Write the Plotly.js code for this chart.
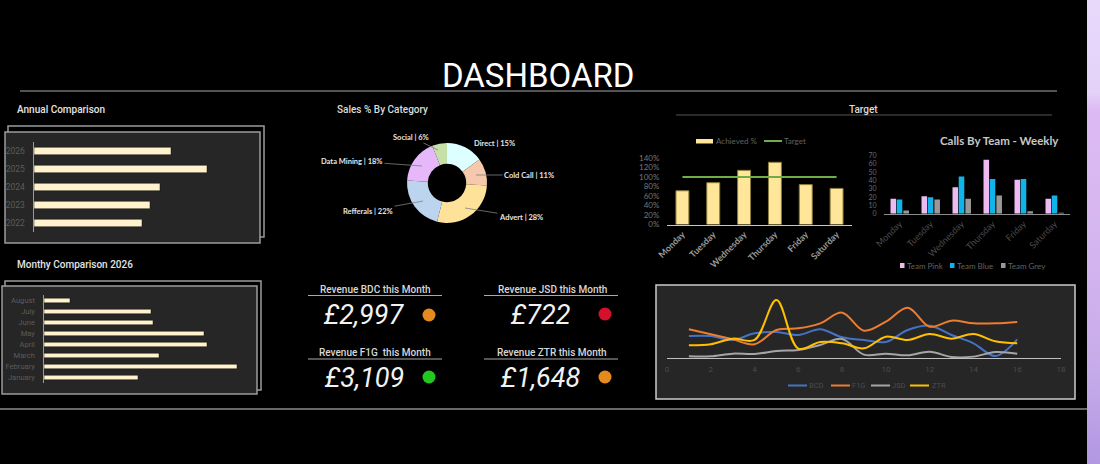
<!DOCTYPE html>
<html>
<head>
<meta charset="utf-8">
<script src="https://cdn.plot.ly/plotly-3.0.1.min.js"></script>
<style>
html,body{margin:0;padding:0;background:#000;overflow:hidden}
#chart{width:1100px;height:464px}
#band{position:absolute;left:1087px;top:0;width:13px;height:464px;
  background:linear-gradient(180deg,#E8D9FB 0%,#E4D2F9 20%,#DDB9F3 24%,#D6B6EF 50%,#C6ABEA 80%,#B297E2 100%)}
</style>
</head>
<body>
<div id="chart"></div>
<div id="band"></div>
<script>
// ---------- data ----------
const years = ['2022','2023','2024','2025','2026'];
const annualValues = [108,116,126,173,137];
const months = ['January','February','March','April','May','June','July','August'];
const monthlyValues = [94,193,115,163,160,109,107,26];
const pieCategories = ['Direct','Cold Call','Advert','Refferals','Data Mining','Social'];
const pieValues = [15,11,28,22,18,6];
const pieColors = ['#DDFFFF','#F6C9AD','#FFE29A','#BDD4EE','#E6B8FA','#C6E0A9'];
const days = ['Monday','Tuesday','Wednesday','Thursday','Friday','Saturday'];
const achieved = [0.71,0.88,1.14,1.31,0.84,0.76];
const target = [1,1,1,1,1,1];
const teamPink = [18,21,32,65,41,18];
const teamBlue = [17,20,45,42,42,22];
const teamGrey = [4,17,18,22,3,1];
const periods = [1,2,3,4,5,6,7,8,9,10,11,12,13,14,15,16];
const bcd = [67,67,55,75,79,70,87,63,55,49,85,98,70,45,7,57];
const f1g = [87,72,57,42,85,90,105,137,83,110,152,95,113,105,105,109];
const jsd = [6,6,14,13,22,25,40,58,11,14,9,20,4,5,19,14];
const ztr = [39,42,59,55,175,29,49,45,30,65,55,73,59,73,51,45];
const kpiTitles = ['Revenue BDC this Month','Revenue JSD this Month','Revenue F1G  this Month','Revenue ZTR this Month'];
const kpiValues = ['£2,997','£722','£3,109','£1,648'];
const kpiColors = ['#E58A1C','#D4102C','#22C81E','#E58A1C'];

// ---------- helpers (pixel → paper) ----------
const W = 1100, H = 464;
const px = x => x / W, py = y => 1 - y / H;
const dx = (a,b) => [px(a), px(b)];
const dy = (top,bottom) => [py(bottom), py(top)];
const FONT = 'Roboto, sans-serif', LATO = 'Lato, sans-serif';
const TICK = '#5c5c5c';

const rect = (x0,y0,x1,y1,line,fill,w) => ({type:'rect',xref:'paper',yref:'paper',x0:px(x0),x1:px(x1),y0:py(y0),y1:py(y1),
  line:{color:line,width:w===undefined?1.5:w},fillcolor:fill||'rgba(0,0,0,0)',layer:'below'});
const hline = (x0,x1,y,c,w) => ({type:'line',xref:'paper',yref:'paper',x0:px(x0),x1:px(x1),y0:py(y),y1:py(y),line:{color:c,width:w||1},layer:'below'});
const dot = (cx,cy,c) => ({type:'circle',xref:'paper',yref:'paper',x0:px(cx-6.5),x1:px(cx+6.5),y0:py(cy+6.5),y1:py(cy-6.5),fillcolor:c,line:{width:0},layer:'above'});
const txt = (x,y,text,size,color,anchor,family,weight) => ({xref:'paper',yref:'paper',x:px(x),y:py(y),text,showarrow:false,
  xanchor:anchor||'center',yanchor:'middle',borderpad:0,font:{family:family||FONT,size,color,weight:weight||400}});

// ---------- traces ----------
const cream = {color:'#FFF2CC',line:{color:'#111',width:0.5}};
const traces = [
  {type:'bar',orientation:'h',x:annualValues,y:years,xaxis:'x',yaxis:'y',marker:cream,showlegend:false},
  {type:'bar',orientation:'h',x:monthlyValues,y:months,xaxis:'x2',yaxis:'y2',marker:cream,showlegend:false},
  {type:'pie',labels:pieCategories,values:pieValues,sort:false,direction:'clockwise',rotation:0,hole:0.48,
   marker:{colors:pieColors,line:{width:0}},textinfo:'none',showlegend:false,
   domain:{x:dx(407,487),y:dy(143,223)}},
  {type:'bar',name:'Achieved %',x:days,y:achieved,xaxis:'x3',yaxis:'y3',marker:{color:'#FFE699',line:{color:'#8a7a3c',width:1}},showlegend:false},
  {type:'scatter',mode:'lines',name:'Target',x:days,y:target,xaxis:'x3',yaxis:'y3',line:{color:'#70AD47',width:2},showlegend:false},
  {type:'bar',name:'Team Pink',x:days,y:teamPink,xaxis:'x4',yaxis:'y4',width:0.18,offset:-0.29,marker:{color:'#EDBBF2'},showlegend:false},
  {type:'bar',name:'Team Blue',x:days,y:teamBlue,xaxis:'x4',yaxis:'y4',width:0.18,offset:-0.09,marker:{color:'#10B4E8'},showlegend:false},
  {type:'bar',name:'Team Grey',x:days,y:teamGrey,xaxis:'x4',yaxis:'y4',width:0.18,offset:0.125,marker:{color:'#999999'},showlegend:false}
];
const lineSeries = [['BCD',bcd,'#4472C4',788,808],['F1G',f1g,'#ED7D31',831,851],['JSD',jsd,'#A5A5A5',871,891],['ZTR',ztr,'#FFC000',910,931]];
lineSeries.forEach(s=>{
  traces.push({type:'scatter',mode:'lines',name:s[0],x:periods,y:s[1],xaxis:'x5',yaxis:'y5',
    line:{color:s[2],width:2,shape:'spline',smoothing:1},showlegend:false});
});

// ---------- layout ----------
const hideX = {showgrid:false,zeroline:false,showticklabels:false,ticks:'',showline:false};
const catY = {type:'category',showgrid:false,zeroline:false,showline:true,linecolor:'#9a9a9a',linewidth:1.5,
  ticks:'outside',ticklen:6,tickcolor:'rgba(0,0,0,0)',tickfont:{family:FONT,size:7.6,color:TICK}};

const layout = {
  width:W,height:H,margin:{l:0,r:0,t:0,b:0,autoexpand:false},paper_bgcolor:'#000',plot_bgcolor:'rgba(0,0,0,0)',
  barmode:'group',bargap:0.58,showlegend:false,
  font:{family:FONT,color:'#ddd'},
  xaxis:Object.assign({domain:dx(34,234),range:[0,200],anchor:'y'},hideX),
  yaxis:Object.assign({},catY,{domain:dy(142,232),anchor:'x',tickfont:{family:FONT,size:8.5,color:TICK}}),
  xaxis2:Object.assign({domain:dx(44,244),range:[0,200],anchor:'y2'},hideX),
  yaxis2:Object.assign({},catY,{domain:dy(295,383),anchor:'x2'}),
  xaxis3:{domain:dx(667,852),anchor:'y3',type:'category',showgrid:false,zeroline:false,showline:true,linecolor:'#c8c8c8',linewidth:1.2,
    tickangle:-45,ticks:'',tickfont:{family:LATO,size:9,color:'#9a9a9a',weight:700}},
  yaxis3:{domain:dy(158,224.5),anchor:'x3',range:[0,1.4],dtick:0.2,tickformat:'.0%',showgrid:false,zeroline:false,showline:false,
    ticks:'outside',ticklen:5,tickcolor:'rgba(0,0,0,0)',tickfont:{family:LATO,size:8,color:'#777'}},
  xaxis4:{domain:dx(884,1070),anchor:'y4',type:'category',showgrid:false,zeroline:false,showline:true,linecolor:'#8c8c8c',linewidth:1.5,
    tickangle:-45,ticks:'',tickfont:{family:LATO,size:9,color:'#4c4c4c'}},
  yaxis4:{domain:dy(155.7,213.7),anchor:'x4',range:[0,70],dtick:10,showgrid:false,zeroline:false,showline:false,
    ticks:'outside',ticklen:5,tickcolor:'rgba(0,0,0,0)',tickfont:{family:LATO,size:7,color:'#6a6a6a'}},
  xaxis5:{domain:dx(667,1061),anchor:'y5',range:[0,18],dtick:2,showgrid:false,zeroline:false,showline:true,linecolor:'#c0c0c0',linewidth:1,
    ticks:'outside',ticklen:3,tickcolor:'rgba(0,0,0,0)',tickfont:{family:FONT,size:8,color:'#4c4c4c'}},
  yaxis5:{domain:dy(292,358.3),anchor:'x5',range:[0,199],visible:false},
  shapes:[
    hline(20,1057,91,'#a8a8a8',1),
    hline(0,1087,409,'#cfcfcf',1.2),
    hline(676,1052,115,'#555',1),
    rect(8,126,264,237,'#9c9c9c','#000'),
    rect(5,132,260,243,'#9c9c9c','#262626'),
    rect(5,281,261,390,'#9c9c9c','#000'),
    rect(2,286,257,394,'#9c9c9c','#262626'),
    rect(656,285,1075,399,'#cccccc','#262626',1.5),
    hline(308,442,295.5,'#aaa',1),
    hline(484,618,295.5,'#aaa',1),
    hline(308,442,359,'#aaa',1),
    hline(484,618,359,'#aaa',1),
    dot(429,315,kpiColors[0]),dot(605,314,kpiColors[1]),dot(429,377,kpiColors[2]),dot(605,377,kpiColors[3]),
    // legend keys
    rect(696,139,713,143.5,'#FFE699','#FFE699',0),
    hline(764,782,141,'#70AD47',2),
    rect(900,263,904.5,268,'#EDBBF2','#EDBBF2',0),
    rect(950,263,954.5,268,'#10B4E8','#10B4E8',0),
    rect(1001,263,1005.5,268,'#999999','#999999',0)
  ].concat(lineSeries.map(s=>hline(s[3],s[3]+19,385.5,s[2],2))),
  annotations:[
    txt(538,75.5,'DASHBOARD',33,'#ffffff','center',FONT,400),
    txt(16,109,'Annual Comparison',10,'#e4e4e4','left',FONT,500),
    txt(382,109,'Sales % By Category',10,'#dcdcdc','center',FONT,500),
    txt(863,109,'Target',10,'#dcdcdc','center',FONT,500),
    txt(16,264,'Monthy Comparison 2026',10,'#e4e4e4','left',FONT,500),
    txt(999.5,140,'Calls By Team - Weekly',11.5,'#c8c8c8','center',LATO,700),
    txt(375,289,kpiTitles[0],10,'#d8d8d8','center',FONT,500),
    txt(552,289,kpiTitles[1],10,'#d8d8d8','center',FONT,500),
    txt(375,352,kpiTitles[2],10,'#d8d8d8','center',FONT,500),
    txt(552,352,kpiTitles[3],10,'#d8d8d8','center',FONT,500),
    txt(364,315,'<i>'+kpiValues[0]+'</i>',27,'#f2f2f2','center',FONT,400),
    txt(540,315,'<i>'+kpiValues[1]+'</i>',27,'#f2f2f2','center',FONT,400),
    txt(364,378,'<i>'+kpiValues[2]+'</i>',27,'#f2f2f2','center',FONT,400),
    txt(540,378,'<i>'+kpiValues[3]+'</i>',27,'#f2f2f2','center',FONT,400),
    // legend texts
    txt(715,141,traces[3].name,8,'#606060','left',LATO),
    txt(783,141,traces[4].name,8,'#606060','left',LATO),
    txt(906,265.5,traces[5].name,8,'#606060','left',LATO),
    txt(956,265.5,traces[6].name,8,'#606060','left',LATO),
    txt(1007,265.5,traces[7].name,8,'#606060','left',LATO)
  ].concat(lineSeries.map(s=>txt(s[4],385.5,s[0],7.5,'#4c4c4c','left',FONT)))
};

// pie labels with leader lines (head point, label centre)
const pieLabelPos = [[494,137,null,null],[476,175,529,175],[465,208,521,217],[423,201,368,211],[422,166,352,161],[438,150,411,137]];
pieCategories.forEach((c,i)=>{
  const p = pieLabelPos[i], text = c+' | '+pieValues[i]+'%';
  const f = {family:LATO,size:7.5,color:'#e6e6e6',weight:700};
  if (p[2]===null) layout.annotations.push({xref:'paper',yref:'paper',x:px(p[0]),y:py(p[1]),text,showarrow:false,font:f});
  else layout.annotations.push({xref:'paper',yref:'paper',x:px(p[0]),y:py(p[1]),ax:p[2]-p[0],ay:p[3]-p[1],text,showarrow:true,
    arrowhead:0,arrowwidth:0.8,arrowcolor:'#808080',font:f});
});

Plotly.newPlot('chart',traces,layout,{displayModeBar:false,staticPlot:true});
</script>
</body>
</html>
